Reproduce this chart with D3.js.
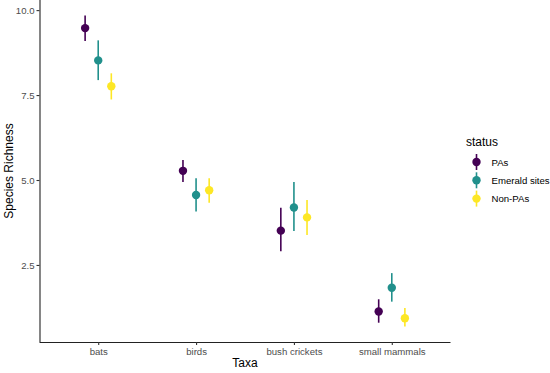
<!DOCTYPE html>
<html lang="en">
<head>
<meta charset="UTF-8">
<title>Species Richness by Taxa</title>
<script src="https://d3js.org/d3.v7.min.js"></script>
<style>
  body { margin: 0; background: #fff; }
  svg { display: block; font-family: "Liberation Sans", Arial, sans-serif; }
</style>
</head>
<body>
<svg id="chart" width="550" height="373"></svg>
<script>
const taxa = ["bats", "birds", "bush crickets", "small mammals"];
const statuses = ["PAs", "Emerald sites", "Non-PAs"];
const colors = ["#440154", "#21908C", "#FDE725"];
// mean, lower, upper per taxon (order of taxa) for each status
const pasMean = [9.47, 5.27, 3.51, 1.13];
const pasLow = [9.09, 4.94, 2.90, 0.80];
const pasHigh = [9.84, 5.59, 4.18, 1.49];
const emeraldMean = [8.52, 4.56, 4.19, 1.83];
const emeraldLow = [7.94, 4.07, 3.50, 1.42];
const emeraldHigh = [9.11, 5.05, 4.94, 2.26];
const nonPasMean = [7.76, 4.70, 3.90, 0.93];
const nonPasLow = [7.37, 4.33, 3.38, 0.69];
const nonPasHigh = [8.14, 5.05, 4.41, 1.23];
const yTicks = [2.5, 5.0, 7.5, 10.0];

const series = [
  { status: statuses[0], mean: pasMean, low: pasLow, high: pasHigh },
  { status: statuses[1], mean: emeraldMean, low: emeraldLow, high: emeraldHigh },
  { status: statuses[2], mean: nonPasMean, low: nonPasLow, high: nonPasHigh }
];
const points = [];
series.forEach((s, si) => taxa.forEach((t, ti) => points.push({
  taxon: t, status: s.status, si, mean: s.mean[ti], low: s.low[ti], high: s.high[ti]
})));

const svg = d3.select("#chart");
const plotLeft = 39.5, plotRight = 450.5, plotTop = 0, plotBottom = 342;

const color = d3.scaleOrdinal().domain(statuses).range(colors);
// discrete x with ggplot-like 0.6 expansion
const x = d3.scalePoint().domain(taxa).range([plotLeft, plotRight]).padding(0.6);
const dodge = d3.scalePoint().domain(statuses).range([-13.1, 13.1]);

const allVals = points.flatMap(d => [d.low, d.high]);
const lo = d3.min(allVals), hi = d3.max(allVals), pad = (hi - lo) * 0.05;
const y = d3.scaleLinear().domain([lo - pad, hi + pad]).range([plotBottom, plotTop]);

// axes
const yAxis = svg.append("g").attr("transform", `translate(${plotLeft},0)`)
  .call(d3.axisLeft(y).tickValues(yTicks).tickFormat(d3.format(".1f")).tickSize(3).tickPadding(2));
const xAxis = svg.append("g").attr("transform", `translate(0,${plotBottom})`)
  .call(d3.axisBottom(x).tickSize(3).tickPadding(3));
[yAxis, xAxis].forEach(g => {
  g.select(".domain").attr("stroke", "#222").attr("stroke-width", 1.1);
  g.selectAll(".tick line").attr("stroke", "#333").attr("stroke-width", 1.1);
  g.selectAll(".tick text").attr("fill", "#4D4D4D").attr("font-size", 9.6)
    .attr("font-family", "Liberation Sans, Arial, sans-serif");
});
xAxis.select(".domain").attr("d", `M${plotLeft},0.5H${plotRight}`);
yAxis.select(".domain").attr("d", `M0.5,${plotTop}V${plotBottom}`);

// error bars and points
const g = svg.append("g");
g.selectAll("line.err").data(points).enter().append("line")
  .attr("class", "err")
  .attr("x1", d => x(d.taxon) + dodge(d.status)).attr("x2", d => x(d.taxon) + dodge(d.status))
  .attr("y1", d => y(d.low)).attr("y2", d => y(d.high))
  .attr("stroke", d => color(d.status)).attr("stroke-width", 1.6);
g.selectAll("circle").data(points).enter().append("circle")
  .attr("cx", d => x(d.taxon) + dodge(d.status)).attr("cy", d => y(d.mean))
  .attr("r", 4.2).attr("fill", d => color(d.status));

// axis titles
svg.append("text").attr("x", (plotLeft + plotRight) / 2).attr("y", 367)
  .attr("text-anchor", "middle").attr("font-size", 12).attr("fill", "#000").text("Taxa");
svg.append("text").attr("transform", `translate(13,${(plotTop + plotBottom) / 2}) rotate(-90)`)
  .attr("text-anchor", "middle").attr("font-size", 12).attr("fill", "#000").text("Species Richness");

// legend
const legend = svg.append("g").attr("transform", "translate(466,0)");
legend.append("text").attr("x", 0).attr("y", 146).attr("font-size", 12).attr("fill", "#000").text("status");
const items = legend.selectAll("g.item").data(statuses).enter().append("g")
  .attr("class", "item").attr("transform", (d, i) => `translate(10.5,${162 + i * 18.3})`);
items.append("line").attr("y1", -8).attr("y2", 8)
  .attr("stroke", d => color(d)).attr("stroke-width", 1.6);
items.append("circle").attr("r", 4.2).attr("fill", d => color(d));
items.append("text").attr("x", 15).attr("y", 3.5).attr("font-size", 9.6).attr("fill", "#000").text(d => d);
</script>
</body>
</html>
